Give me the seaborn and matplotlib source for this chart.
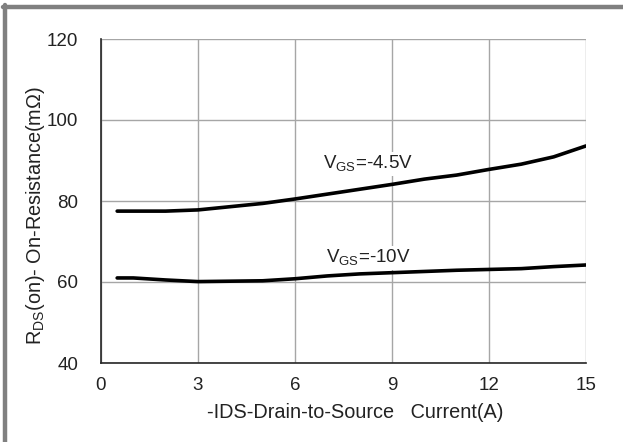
import matplotlib
matplotlib.use("Agg")
import matplotlib.pyplot as plt
import seaborn as sns
import pandas as pd
from matplotlib.lines import Line2D

sns.set_style("white")
plt.rcParams['font.family'] = ['Liberation Sans', 'DejaVu Sans']
plt.rcParams['mathtext.fontset'] = 'custom'
plt.rcParams['mathtext.rm'] = 'Liberation Sans'

# Data
current = [0.5, 1, 2, 3, 4, 5, 6, 7, 8, 9, 10, 11, 12, 13, 14, 15]
rds_4v5 = [77.5, 77.5, 77.5, 77.8, 78.6, 79.4, 80.5, 81.7, 82.9, 84.1, 85.4, 86.4, 87.8, 89.1, 90.9, 93.6]
rds_10v = [61.0, 61.0, 60.5, 60.1, 60.2, 60.3, 60.8, 61.5, 62.0, 62.3, 62.6, 62.9, 63.1, 63.3, 63.8, 64.2]
series_labels = ["V$_\\mathregular{GS}$=-4.5V", "V$_\\mathregular{GS}$=-10V"]
x_ticks = [0, 3, 6, 9, 12, 15]
y_ticks = [40, 60, 80, 100, 120]

df = pd.concat([
    pd.DataFrame({"I": current, "R": rds_4v5, "s": "4.5"}),
    pd.DataFrame({"I": current, "R": rds_10v, "s": "10"}),
])

FS = 13.5
LFS = 14.3
TXT = "#222222"

fig = plt.figure(figsize=(6.23, 4.42), dpi=100)
ax = fig.add_axes([101 / 623, 1 - 363 / 442, 485 / 623, 324 / 442])

sns.lineplot(data=df, x="I", y="R", units="s", estimator=None, color="black",
             linewidth=2.6, ax=ax, legend=False)

ax.set_xlim(0, 15)
ax.set_ylim(40, 120)
ax.set_xticks(x_ticks)
ax.set_yticks(y_ticks)
ax.grid(True, color="#a6a6a6", linewidth=1.0)
ax.set_axisbelow(True)
for s in ["top", "right"]:
    ax.spines[s].set_visible(False)
for s in ["left", "bottom"]:
    ax.spines[s].set_color("#262626")
    ax.spines[s].set_linewidth(1.2)
ax.tick_params(axis="both", length=0, labelsize=FS, colors=TXT)
ax.tick_params(axis="y", pad=16.5)
ax.tick_params(axis="x", pad=10)

ax.set_xlabel("-IDS-Drain-to-Source   Current(A)", fontsize=LFS, color=TXT)
ax.set_ylabel("R$_\\mathregular{DS}$(on)- On-Resistance(m\u03a9)", fontsize=LFS, color=TXT)
ax.xaxis.set_label_coords((355 - 101) / 485, -0.122)
ax.yaxis.set_label_coords(-0.112, 0.454)

bbox = dict(facecolor="white", edgecolor="none", pad=1.5)
ax.text(6.86, 89.1, series_labels[0], fontsize=FS, ha="left", va="center", bbox=bbox, color=TXT)
ax.text(6.97, 65.9, series_labels[1], fontsize=FS, ha="left", va="center", bbox=bbox, color=TXT)

# figure frame (top and left grey border)
fig.add_artist(Line2D([3 / 623, 1], [1 - 7 / 442, 1 - 7 / 442], color="#808080", linewidth=3.2,
                      transform=fig.transFigure))
fig.add_artist(Line2D([5 / 623, 5 / 623], [0, 1 - 5 / 442], color="#808080", linewidth=3.2,
                      transform=fig.transFigure))

fig.savefig("out.png", dpi=100)
